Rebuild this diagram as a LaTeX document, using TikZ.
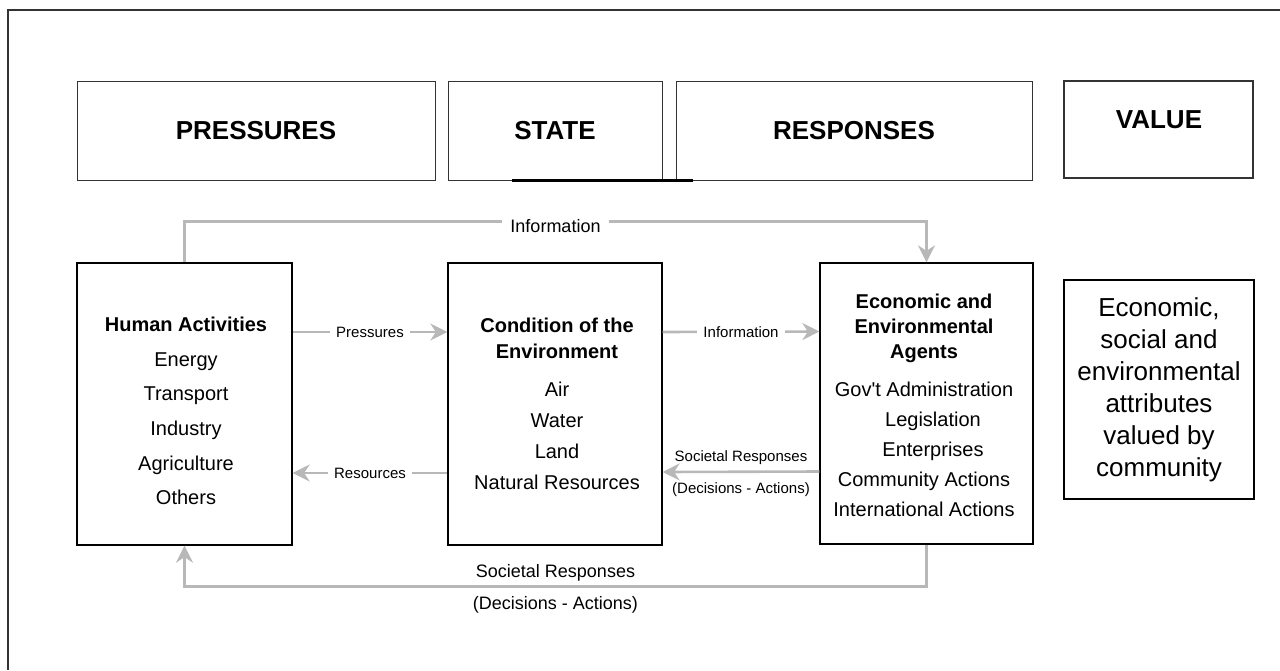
\documentclass[tikz,border=0pt]{standalone}
\usepackage{fontspec}
\setmainfont{Liberation Sans}
\usetikzlibrary{arrows.meta}

\begin{document}
\begin{tikzpicture}[x=1pt, y=-1pt,
    hdr/.style={draw=black!80, line width=1pt, inner sep=0pt,
                font=\fontsize{26}{30}\selectfont\bfseries},
    panel/.style={draw=black, line width=1.3pt, inner sep=0pt},
    body/.style={align=center, anchor=north, inner sep=0pt},
    flow/.style={draw=black!28, line width=2.6pt, -{Stealth[length=17pt,width=17pt]}},
    tag/.style={font=\fontsize{15}{18}\selectfont, fill=white, inner xsep=6pt},
    bigtag/.style={font=\fontsize{18}{21}\selectfont}
]
\useasboundingbox (0,0) rectangle (1280,670);
\draw[line width=1.2pt, black!80] (8,670) -- (8,10) -- (1280,10);

% header row
\node[hdr, minimum width=358pt, minimum height=99pt] (pressHdr) at (256,130.5) {PRESSURES};
\node[hdr, minimum width=214pt, minimum height=99pt] (stateHdr) at (555,130.5) {STATE};
\node[hdr, minimum width=356pt, minimum height=99pt] (respHdr) at (854,130.5) {RESPONSES};
\node[hdr, line width=1.5pt, minimum width=189pt, minimum height=97pt] (valHdr) at (1158.5,129.5) {};
\node[font=\fontsize{26}{30}\selectfont\bfseries] (valTxt) at (1159,120) {VALUE};
\draw[line width=2.5pt] ([xshift=-43pt]stateHdr.south) -- ([xshift=17pt]respHdr.south west);

% lower boxes
\node[panel, minimum width=215pt, minimum height=282pt] (human) at (184.5,404) {};
\node[panel, minimum width=214pt, minimum height=282pt] (cond) at (555,404) {};
\node[panel, minimum width=213pt, minimum height=281pt] (agents) at (926.5,403.5) {};
\node[panel, minimum width=190pt, minimum height=219pt] (valBox) at (1159,389.5) {};

\node[body, font=\fontsize{20}{34.6}\selectfont] (humanTxt) at (186,317)
  {\textbf{Human Activities}\\Energy\\Transport\\Industry\\Agriculture\\Others};
\node[body, font=\fontsize{20}{31}\selectfont] (condTxt) at (557,318)
  {\textbf{Condition of the}\\[-5pt]\textbf{Environment}\\[7pt]Air\\Water\\Land\\Natural Resources};
\node[body, font=\fontsize{20}{30}\selectfont] (agentsTxt) at (924,294)
  {\textbf{Economic and}\\[-5pt]\textbf{Environmental}\\[-5pt]\textbf{Agents}\\[8pt]Gov\textquotesingle t Administration\\
   \hspace*{18pt}Legislation\\\hspace*{18pt}Enterprises\\Community Actions\\International Actions};
\node[body, font=\fontsize{26}{32}\selectfont] (valTxtB) at (1159,297)
  {Economic,\\social and\\environmental\\attributes\\valued by\\community};

% flows between the boxes
\draw[flow] ([yshift=72pt]human.east) -- node[tag] {Pressures} ([yshift=72pt]cond.west);
\draw[flow] ([yshift=-69pt]cond.west) -- node[tag] {Resources} ([yshift=-69pt]human.east);
\draw[flow] ([yshift=72pt]cond.east) -- node[tag] {Information} ([yshift=72pt]agents.west);
\draw[flow] ([yshift=-68pt]agents.west) --
  node[above=3pt, font=\fontsize{15}{18}\selectfont] {Societal Responses}
  node[below=6pt, font=\fontsize{15}{18}\selectfont] {(Decisions - Actions)}
  ([yshift=-68pt]cond.east);

% outer loops
\draw[flow] (human.north) -- ++(0,-41) -| node[pos=0.25, bigtag, fill=white, inner xsep=8pt, yshift=-5pt] {Information} (agents.north);
\draw[flow] (agents.south) -- ++(0,42) -|
  node[pos=0.25, bigtag, above=1pt] {Societal Responses}
  node[pos=0.25, bigtag, below=5pt] {(Decisions - Actions)}
  (human.south);
\end{tikzpicture}
\end{document}
